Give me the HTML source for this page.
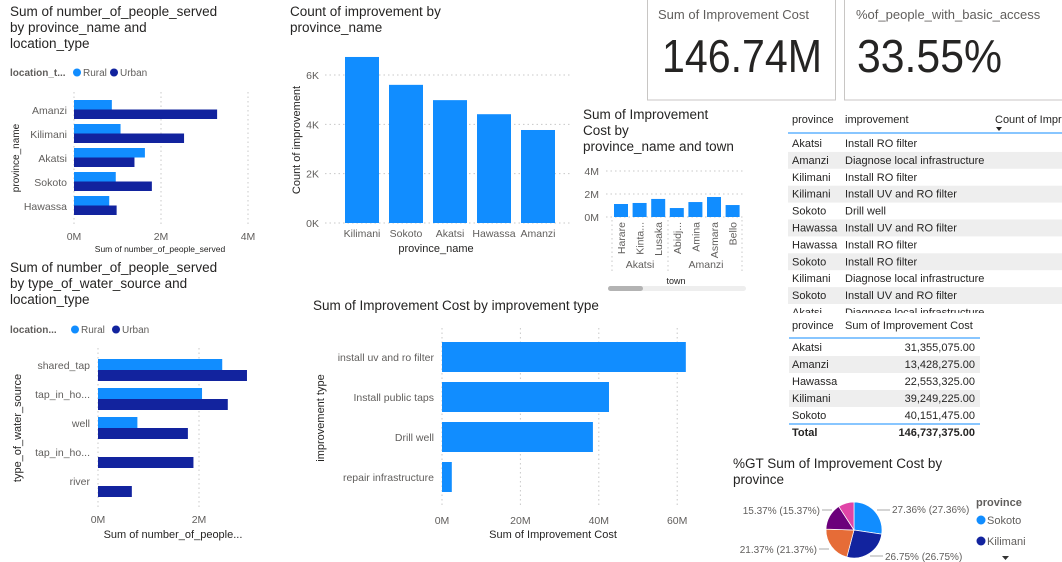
<!DOCTYPE html>
<html><head><meta charset="utf-8">
<style>
html,body{margin:0;padding:0;background:#fff;width:1062px;height:562px;overflow:hidden}
svg{display:block;font-family:"Liberation Sans",sans-serif}
.t{font-size:13.5px;fill:#252423}
.lab{font-size:10px;fill:#605e5c}
.ax{font-size:10.5px;fill:#605e5c}
.at{font-size:11px;fill:#252423}
.grid{stroke:#c8c8c8;stroke-dasharray:1.5 3;stroke-width:1}
.cell{font-size:11px;fill:#252423}
</style></head>
<body>
<svg id="s" width="1062" height="562" viewBox="0 0 1062 562">
<text class="t" x="10" y="16">Sum of number_of_people_served</text>
<text class="t" x="10" y="32">by province_name and</text>
<text class="t" x="10" y="48">location_type</text>
<g>
<text x="10" y="76" style="font-size:10px;font-weight:bold;fill:#605e5c">location_t...</text>
<circle cx="77" cy="72.5" r="4" fill="#118dff"/><text class="lab" x="83" y="76">Rural</text>
<circle cx="114" cy="72.5" r="4" fill="#12239e"/><text class="lab" x="120" y="76">Urban</text>
</g>
<text class="t" x="290" y="16">Count of improvement by</text>
<text class="t" x="290" y="32">province_name</text>
<text class="t" x="583" y="119">Sum of Improvement</text>
<text class="t" x="583" y="135">Cost by</text>
<text class="t" x="583" y="151">province_name and town</text>
<text class="t" x="10" y="272">Sum of number_of_people_served</text>
<text class="t" x="10" y="288">by type_of_water_source and</text>
<text class="t" x="10" y="304">location_type</text>
<g>
<text x="10" y="333" style="font-size:10px;font-weight:bold;fill:#605e5c">location...</text>
<circle cx="75" cy="329.5" r="4" fill="#118dff"/><text class="lab" x="81" y="333">Rural</text>
<circle cx="116" cy="329.5" r="4" fill="#12239e"/><text class="lab" x="122" y="333">Urban</text>
</g>
<text class="t" x="313" y="310">Sum of Improvement Cost by improvement type</text>
<text class="t" x="733" y="468">%GT Sum of Improvement Cost by</text>
<text class="t" x="733" y="484">province</text>

<g>
<rect x="647.5" y="-1" width="188" height="101" fill="#fff" stroke="#c8c6c4"/>
<text x="658" y="19" style="font-size:13px;fill:#605e5c">Sum of Improvement Cost</text>
<text x="662" y="72" textLength="160" lengthAdjust="spacingAndGlyphs" style="font-size:46px;fill:#252423">146.74M</text>
</g>
<g>
<rect x="844.5" y="-1" width="220" height="101" fill="#fff" stroke="#c8c6c4"/>
<text x="856" y="19" style="font-size:13px;fill:#605e5c">%of_people_with_basic_access</text>
<text x="857" y="72" textLength="145" lengthAdjust="spacingAndGlyphs" style="font-size:46px;fill:#252423">33.55%</text>
</g>

<rect x="608" y="286" width="138" height="5" rx="2.5" fill="#eee"/>
<rect x="608" y="286" width="35" height="5" rx="2.5" fill="#b3b3b3"/>

<g id="g"></g>
</svg>
<script>
const c1Cats=["Amanzi","Kilimani","Akatsi","Sokoto","Hawassa"];
const c1Rural=[0.87,1.07,1.63,0.96,0.81];
const c1Urban=[3.29,2.53,1.39,1.79,0.98];
const c1Ticks=[0,2,4];
const c2Cats=["Kilimani","Sokoto","Akatsi","Hawassa","Amanzi"];
const c2Vals=[6.73,5.6,4.98,4.41,3.77];
const c2Ticks=[0,2,4,6];
const c3Towns=["Harare","Kinta...","Lusaka","Abidj...","Amina","Asmara","Bello"];
const c3Vals=[1.13,1.22,1.57,0.78,1.3,1.74,1.04];
const c3Ticks=[0,2,4];
const c4Cats=["shared_tap","tap_in_ho...","well","tap_in_ho...","river"];
const c4Rural=[2.46,2.06,0.78,0,0];
const c4Urban=[2.95,2.57,1.78,1.89,0.67];
const c4Ticks=[0,2];
const c5Cats=["install uv and ro filter","Install public taps","Drill well","repair infrastructure"];
const c5Vals=[62.2,42.6,38.5,2.5];
const c5Ticks=[0,20,40,60];
const pieNames=["Sokoto","Kilimani","Akatsi","Hawassa","Amanzi"];
const pieVals=[27.36,26.75,21.37,15.37,9.15];
const t1Prov=["Akatsi","Amanzi","Kilimani","Kilimani","Sokoto","Hawassa","Hawassa","Sokoto","Kilimani","Sokoto","Akatsi"];
const t1Imp=["Install RO filter","Diagnose local infrastructure","Install RO filter","Install UV and RO filter","Drill well","Install UV and RO filter","Install RO filter","Install RO filter","Diagnose local infrastructure","Install UV and RO filter","Diagnose local infrastructure"];
const t2Prov=["Akatsi","Amanzi","Hawassa","Kilimani","Sokoto"];
const t2Vals=["31,355,075.00","13,428,275.00","22,553,325.00","39,249,225.00","40,151,475.00"];

const NS="http://www.w3.org/2000/svg";
const G=document.getElementById('g');
function mk(tag,attrs,parent,txt){const e=document.createElementNS(NS,tag);for(const k in attrs)e.setAttribute(k,attrs[k]);if(txt!==undefined)e.textContent=txt;(parent||G).appendChild(e);return e;}
const LB="#118dff",DB="#12239e";

(function(){
  const g=mk('g',{});
  
  
  const x=v=>74+v*43.5, y0=98, step=24;
  c1Ticks.forEach(t=>{mk('line',{x1:x(t),x2:x(t),y1:92,y2:226,class:'grid'},g);
    const l=mk('text',{x:x(t),y:240,class:'ax','text-anchor':'middle'},g,t+'M');
    });
  c1Cats.forEach((c,i)=>{const cy=y0+i*step+12;
    const l=mk('text',{x:67,y:cy+4,class:'ax','text-anchor':'end'},g,c);
    
    const r=mk('rect',{x:x(0),y:cy-10,width:x(c1Rural[i])-x(0),height:9.5,fill:LB},g);
    
    const u=mk('rect',{x:x(0),y:cy-0.5,width:x(c1Urban[i])-x(0),height:9.5,fill:DB},g);
    });
  const xt=mk('text',{x:160,y:252,class:'at','text-anchor':'middle',style:'font-size:8.5px'},g,'Sum of number_of_people_served');
  
  const yt=mk('text',{x:0,y:0,class:'at','text-anchor':'middle',style:'font-size:10px',transform:'translate(19,158) rotate(-90)'},g,'province_name');
  
})();

(function(){
  const g=mk('g',{});
  
  
  const y=v=>223-v*24.67;
  c2Ticks.forEach(t=>{mk('line',{x1:325,x2:572,y1:y(t),y2:y(t),class:'grid'},g);
    const l=mk('text',{x:319,y:y(t)+4,class:'ax','text-anchor':'end'},g,t+'K');
    });
  c2Cats.forEach((c,i)=>{const x0=345+i*44;
    const b=mk('rect',{x:x0,y:y(c2Vals[i]),width:34,height:y(0)-y(c2Vals[i]),fill:LB},g);
    
    const l=mk('text',{x:x0+17,y:237,class:'ax','text-anchor':'middle'},g,c);
    });
  const xt=mk('text',{x:436,y:252,class:'at','text-anchor':'middle'},g,'province_name');
  
  const yt=mk('text',{x:0,y:0,class:'at','text-anchor':'middle',transform:'translate(300,140) rotate(-90)'},g,'Count of improvement');
  
})();

(function(){
  const g=mk('g',{});
  
  
  const y=v=>217-v*11.5, step=18.6, c0=621;
  c3Ticks.forEach(t=>{mk('line',{x1:606,x2:745,y1:y(t),y2:y(t),class:'grid'},g);
    const l=mk('text',{x:599,y:y(t)+4,class:'ax','text-anchor':'end'},g,t+'M');
    });
  [612,668,742].forEach(xx=>mk('line',{x1:xx,x2:xx,y1:220,y2:274,class:'grid'},g));
  c3Towns.forEach((c,i)=>{const cx=c0+i*step;
    const b=mk('rect',{x:cx-7,y:y(c3Vals[i]),width:14,height:y(0)-y(c3Vals[i]),fill:LB},g);
    
    const l=mk('text',{x:0,y:0,class:'ax','text-anchor':'end',transform:`translate(${cx+4},222) rotate(-90)`},g,c);
    });
  const a=mk('text',{x:640,y:268,class:'ax','text-anchor':'middle'},g,'Akatsi');
  
  const b=mk('text',{x:706,y:268,class:'ax','text-anchor':'middle'},g,'Amanzi');
  
  const xt=mk('text',{x:676,y:284,class:'at','text-anchor':'middle',style:'font-size:9px'},g,'town');
  
})();

(function(){
  const g=mk('g',{});
  
  
  const x=v=>98+v*50.5, step=29;
  c4Ticks.forEach(t=>{mk('line',{x1:x(t),x2:x(t),y1:348,y2:510,class:'grid'},g);
    const l=mk('text',{x:x(t),y:523,class:'ax','text-anchor':'middle'},g,t+'M');
    });
  c4Cats.forEach((c,i)=>{const cy=370+i*step;
    const l=mk('text',{x:90,y:cy-1,class:'ax','text-anchor':'end'},g,c);
    
    if(c4Rural[i]>0){const r=mk('rect',{x:x(0),y:cy-11,width:x(c4Rural[i])-x(0),height:11,fill:LB},g);
      }
    const u=mk('rect',{x:x(0),y:cy,width:x(c4Urban[i])-x(0),height:11,fill:DB},g);
    });
  const xt=mk('text',{x:173,y:538,class:'at','text-anchor':'middle'},g,'Sum of number_of_people...');
  
  const yt=mk('text',{x:0,y:0,class:'at','text-anchor':'middle',transform:'translate(21,428) rotate(-90)'},g,'type_of_water_source');
  
})();

(function(){
  const g=mk('g',{});
  
  
  const x=v=>442+v*3.92, step=40;
  c5Ticks.forEach(t=>{mk('line',{x1:x(t),x2:x(t),y1:328,y2:508,class:'grid'},g);
    const l=mk('text',{x:x(t),y:524,class:'ax','text-anchor':'middle'},g,t+'M');
    });
  c5Cats.forEach((c,i)=>{const cy=357+i*step;
    const l=mk('text',{x:434,y:cy+4,class:'ax','text-anchor':'end'},g,c);
    
    const b=mk('rect',{x:x(0),y:cy-15,width:x(c5Vals[i])-x(0),height:30,fill:LB},g);
    });
  const xt=mk('text',{x:553,y:538,class:'at','text-anchor':'middle'},g,'Sum of Improvement Cost');
  
  const yt=mk('text',{x:0,y:0,class:'at','text-anchor':'middle',transform:'translate(324,418) rotate(-90)'},g,'improvement type');
  
})();

(function(){
  const g=mk('g',{});
  
  
  [[792,'province'],[845,'improvement'],[995,'Count of Impr']].forEach(h=>{
    const t=mk('text',{x:h[0],y:123,class:'cell'},g,h[1]);
    });
  mk('path',{d:'M996 127 l6 0 l-3 4 z',fill:'#252423'},g);
  mk('line',{x1:788,x2:1062,y1:133,y2:133,stroke:'#118dff','stroke-width':1},g);
  const clip=mk('clipPath',{id:'t1c'},g);mk('rect',{x:785,y:134,width:277,height:179},clip);
  const body=mk('g',{'clip-path':'url(#t1c)'},g);
  t1Prov.forEach((p,i)=>{const yy=135+i*16.9;
    if(i%2==1)mk('rect',{x:788,y:yy,width:274,height:16.9,fill:'#eeeeee'},body);
    const a=mk('text',{x:792,y:yy+12,class:'cell'},body,p);
    
    const b=mk('text',{x:845,y:yy+12,class:'cell'},body,t1Imp[i]);
    });
})();

(function(){
  const g=mk('g',{});
  
  
  mk('text',{x:792,y:329,class:'cell'},g,'province');
  mk('text',{x:845,y:329,class:'cell'},g,'Sum of Improvement Cost');
  mk('line',{x1:789,x2:980,y1:338,y2:338,stroke:'#118dff'},g);
  t2Prov.forEach((p,i)=>{const yy=339+i*17;
    if(i%2==1)mk('rect',{x:789,y:yy,width:191,height:17,fill:'#eeeeee'},g);
    const a=mk('text',{x:792,y:yy+12,class:'cell'},g,p);
    
    const b=mk('text',{x:975,y:yy+12,class:'cell','text-anchor':'end'},g,t2Vals[i]);
    });
  mk('line',{x1:789,x2:980,y1:424,y2:424,stroke:'#118dff'},g);
  const t=mk('text',{x:792,y:436,class:'cell',style:'font-weight:bold'},g,'Total');
  
  const v=mk('text',{x:975,y:436,class:'cell','text-anchor':'end',style:'font-weight:bold'},g,'146,737,375.00');
  
})();

(function(){
  const g=mk('g',{});
  
  
  const cols=["#118dff","#12239e","#e66c37","#6b007b","#e044a7"];
  const cx=854,cy=530,r=28,tot=pieVals.reduce((a,b)=>a+b,0);
  let a0=-Math.PI/2;
  pieVals.forEach((v,i)=>{const a1=a0+v/tot*2*Math.PI;
    const x0=cx+r*Math.cos(a0),y0=cy+r*Math.sin(a0),x1=cx+r*Math.cos(a1),y1=cy+r*Math.sin(a1);
    const s=mk('path',{d:`M${cx} ${cy} L${x0} ${y0} A${r} ${r} 0 ${a1-a0>Math.PI?1:0} 1 ${x1} ${y1} Z`,fill:cols[i],stroke:'#fff','stroke-width':0.7},g);
    
    a0=a1;});
  const lbl=[[892,513,'start',pieVals[0]],[885,560,'start',pieVals[1]],[817,553,'end',pieVals[2]],[820,514,'end',pieVals[3]]];
  lbl.forEach(l=>{const t=mk('text',{x:l[0],y:l[1],class:'lab','text-anchor':l[2]},g,l[3].toFixed(2)+'% ('+l[3].toFixed(2)+'%)');
    });
  mk('line',{x1:877,x2:890,y1:510,y2:510,stroke:'#aaa'},g);
  mk('line',{x1:870,x2:883,y1:556,y2:556,stroke:'#aaa'},g);
  mk('line',{x1:819,x2:829,y1:549,y2:549,stroke:'#aaa'},g);
  mk('line',{x1:822,x2:832,y1:510,y2:510,stroke:'#aaa'},g);
  const lg=mk('g',{},g);
  mk('text',{x:976,y:506,style:'font-size:11px;font-weight:bold;fill:#605e5c'},lg,'province');
  mk('circle',{cx:981,cy:520,r:4.5,fill:cols[0]},lg);
  mk('text',{x:987,y:524,class:'cell',style:'font-size:11px;fill:#605e5c'},lg,pieNames[0]);
  mk('circle',{cx:981,cy:541,r:4.5,fill:cols[1]},lg);
  mk('text',{x:987,y:545,class:'cell',style:'font-size:11px;fill:#605e5c'},lg,pieNames[1]);
  mk('path',{d:'M1002 556 l7 0 l-3.5 4 z',fill:'#333'},lg);
})();
</script>
</body></html>
